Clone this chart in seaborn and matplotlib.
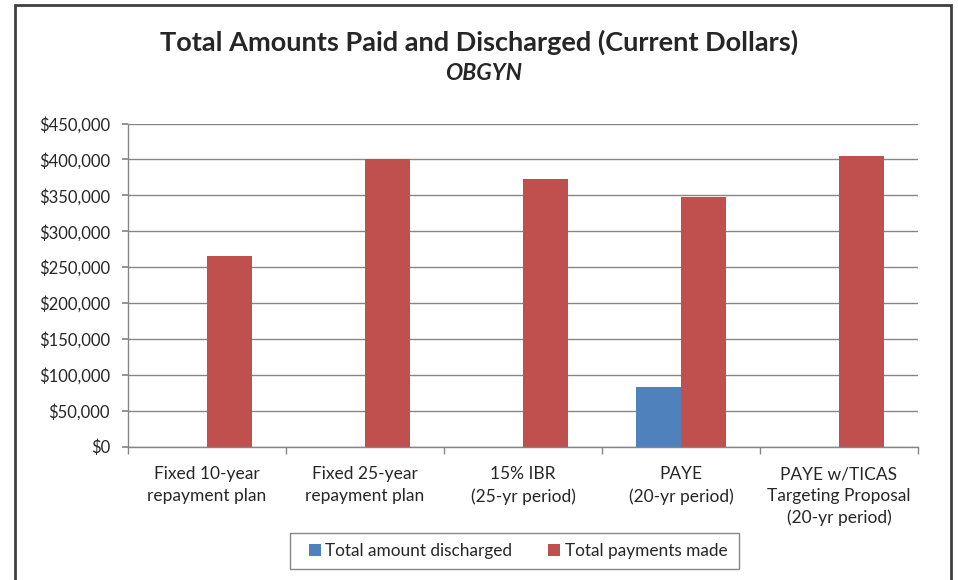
import matplotlib
matplotlib.use("Agg")
import matplotlib.pyplot as plt
import seaborn as sns
import pandas as pd
from matplotlib.patches import Rectangle, Patch
from matplotlib.ticker import FuncFormatter, FixedLocator

categories = ["Fixed 10-year\nrepayment plan", "Fixed 25-year\nrepayment plan",
              "15% IBR\n(25-yr period)", "PAYE\n(20-yr period)",
              "PAYE w/TICAS\nTargeting Proposal\n(20-yr period)"]
discharged = [0, 0, 0, 83000, 0]
payments = [265000, 400000, 373000, 347000, 405000]
series = ["Total amount discharged", "Total payments made"]
colors = ["#4F81BD", "#C0504D"]
yticks = [0, 50000, 100000, 150000, 200000, 250000, 300000, 350000, 400000, 450000]

df = pd.DataFrame({
    "category": categories * 2,
    "series": [series[0]] * 5 + [series[1]] * 5,
    "value": discharged + payments,
})

sns.set_theme(style="white")
plt.rcParams["font.family"] = ["Lato", "DejaVu Sans"]

fig = plt.figure(figsize=(9.58, 5.8), dpi=100)
ax = fig.add_axes([128 / 958, 1 - 446.7 / 580, (918 - 128) / 958, (446.7 - 123.5) / 580])

sns.barplot(data=df, x="category", y="value", hue="series", palette=colors,
            width=0.57, linewidth=0, saturation=1, ax=ax, legend=False)

ax.set_ylim(0, 450000)
ax.set_xlim(-0.5, 4.5)
ax.set_yticks(yticks)
ax.yaxis.set_major_formatter(FuncFormatter(lambda v, p: "${:,.0f}".format(v)))
ax.set_xlabel("")
ax.set_ylabel("")
ax.grid(axis="y", color="#868686", linewidth=1)
ax.set_axisbelow(True)
for s in ["top", "right"]:
    ax.spines[s].set_visible(False)
for s in ["left", "bottom"]:
    ax.spines[s].set_color("#868686")
    ax.spines[s].set_linewidth(1)
ax.tick_params(axis="y", length=4, color="#868686", labelsize=12, pad=9, left=True)
ax.tick_params(axis="x", which="major", length=0, labelsize=12.5, pad=14)
ax.xaxis.set_minor_locator(FixedLocator([-0.5, 0.5, 1.5, 2.5, 3.5, 4.5]))
ax.tick_params(axis="x", which="minor", length=5, color="#868686", bottom=True)
for lbl in ax.get_xticklabels():
    lbl.set_linespacing(1.43)
    lbl.set_verticalalignment("top")

fig.text(0.5, 1 - 42 / 580, "Total Amounts Paid and Discharged (Current Dollars)",
         ha="center", va="center", fontsize=19.5, fontweight="bold")
fig.text(483.5 / 958, 1 - 73.5 / 580, "OBGYN", ha="center", va="center", fontsize=16.5,
         fontweight="bold", fontstyle="italic")

handles = [Patch(facecolor=c, edgecolor="none") for c in colors]
leg = fig.legend(handles, series, loc="center", bbox_to_anchor=(518 / 958, 1 - 551 / 580),
                 ncol=2, frameon=False, fontsize=12.4, handlelength=0.7, handleheight=0.7,
                 handletextpad=0.25, columnspacing=2.1)
fig.patches.append(Rectangle((290 / 958, 1 - 569 / 580), (739 - 290) / 958, 36 / 580,
                             transform=fig.transFigure, fill=False, edgecolor="#868686",
                             linewidth=1, zorder=5))

fig.patches.append(Rectangle((15 / 958, -0.05), (951 - 15) / 958, 1 - 5 / 580 + 0.05,
                             transform=fig.transFigure, fill=False, edgecolor="#404040",
                             linewidth=2, zorder=10))

fig.savefig("out.png", dpi=100)
